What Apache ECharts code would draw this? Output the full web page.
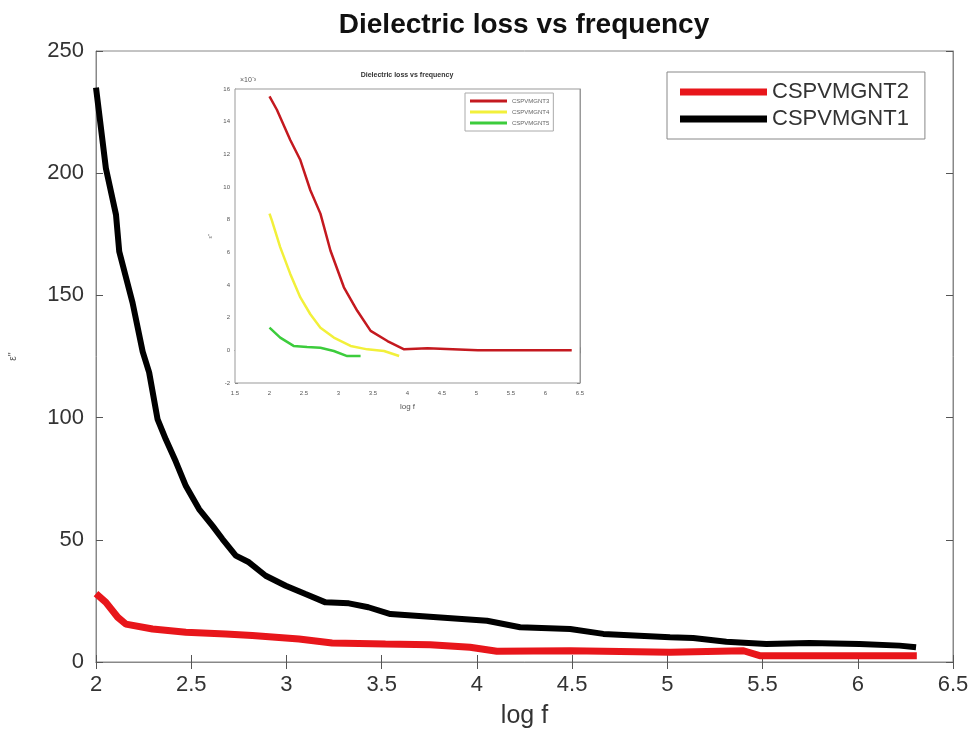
<!DOCTYPE html>
<html>
<head>
<meta charset="utf-8">
<script src="https://cdn.jsdelivr.net/npm/echarts@6/dist/echarts.min.js"></script>
<style>
  html, body { margin: 0; padding: 0; background: #fff; }
  #chart { width: 974px; height: 734px; }
</style>
</head>
<body>
<div id="chart"></div>
<script>
// Main plot: dielectric loss (ε'') against log f
const logF1 = [2.0, 2.052, 2.105, 2.122, 2.192, 2.245, 2.279, 2.323, 2.367, 2.419, 2.472, 2.541, 2.611, 2.664, 2.734, 2.803, 2.891, 2.996, 3.1, 3.205, 3.328, 3.43, 3.546, 3.79, 4.053, 4.227, 4.49, 4.664, 5.014, 5.136, 5.31, 5.52, 5.747, 6.009, 6.219, 6.306];
const eps1  = [235, 202, 183, 168, 147, 127, 118.5, 99.4, 91, 82, 72, 62.6, 55.8, 50.3, 43.5, 40.8, 35.3, 31.2, 27.8, 24.4, 24, 22.4, 19.6, 18.3, 16.9, 14.2, 13.5, 11.5, 10.1, 9.8, 8.3, 7.4, 7.8, 7.4, 6.7, 6.0];

const logF2 = [2.0, 2.009, 2.052, 2.114, 2.157, 2.297, 2.472, 2.681, 2.821, 3.066, 3.24, 3.52, 3.755, 3.964, 4.105, 4.49, 5.014, 5.4, 5.485, 6.009, 6.31];
const eps2  = [28, 28.5, 24.4, 18.3, 15.5, 13.5, 12.2, 11.5, 10.8, 9.4, 7.8, 7.4, 7.1, 6.0, 4.4, 4.6, 4.0, 4.6, 2.6, 2.6, 2.6];

// Inset plot: values in units of 10^-3
const inLogF3 = [2.0, 2.107, 2.301, 2.447, 2.592, 2.738, 2.883, 3.078, 3.272, 3.466, 3.709, 3.951, 4.29, 5.02, 6.38];
const inEps3  = [15.55, 14.73, 12.88, 11.65, 9.8, 8.37, 6.11, 3.86, 2.42, 1.19, 0.57, 0.06, 0.12, 0.0, 0.0];
const inLogF4 = [2.0, 2.034, 2.155, 2.301, 2.447, 2.592, 2.738, 2.932, 3.175, 3.417, 3.66, 3.879];
const inEps4  = [8.37, 7.96, 6.32, 4.68, 3.24, 2.21, 1.39, 0.78, 0.27, 0.06, -0.04, -0.35];
const inLogF5 = [2.0, 2.155, 2.349, 2.544, 2.738, 2.932, 3.126, 3.32];
const inEps5  = [1.39, 0.78, 0.27, 0.2, 0.16, -0.04, -0.35, -0.35];

const mainNames  = ['CSPVMGNT2', 'CSPVMGNT1'];
const insetNames = ['CSPVMGNT3', 'CSPVMGNT4', 'CSPVMGNT5'];

const zip = (xs, ys) => xs.map((x, i) => [x, ys[i]]);

const FONT = '"Liberation Sans", Arial, sans-serif';

// Copy of an axis used only for the inward ticks on the opposite side of the box
function mirrorAxis(base, extra) {
  return Object.assign({}, base, {
    axisLabel: { show: false },
    name: '',
    splitLine: { show: false }
  }, extra);
}

const mainX = {
  gridIndex: 0, type: 'value', min: 2, max: 6.5, interval: 0.5,
  axisLine: { lineStyle: { color: '#888', width: 1 } },
  axisTick: { inside: true, length: 7, lineStyle: { color: '#555' } },
  axisLabel: { fontSize: 22, color: '#333', margin: 12, fontFamily: FONT },
  splitLine: { show: false },
  name: 'log f', nameLocation: 'middle', nameGap: 42,
  nameTextStyle: { fontSize: 25, color: '#333', fontFamily: FONT }
};
const mainY = {
  gridIndex: 0, type: 'value', min: 0, max: 250, interval: 50,
  axisLine: { show: true, lineStyle: { color: '#888', width: 1 } },
  axisTick: { show: true, inside: true, length: 7, lineStyle: { color: '#555' } },
  axisLabel: { fontSize: 22, color: '#333', margin: 12, fontFamily: FONT },
  splitLine: { show: false },
  name: "ε''", nameLocation: 'middle', nameGap: 78, nameRotate: 90,
  nameTextStyle: { fontSize: 10, color: '#555', fontFamily: FONT }
};
const insetX = {
  gridIndex: 1, type: 'value', min: 1.5, max: 6.5, interval: 0.5,
  axisLine: { lineStyle: { color: '#999', width: 1 } },
  axisTick: { inside: true, length: 3, lineStyle: { color: '#777' } },
  axisLabel: { fontSize: 6, color: '#555', margin: 7, fontFamily: FONT },
  splitLine: { show: false },
  name: 'log f', nameLocation: 'middle', nameGap: 20,
  nameTextStyle: { fontSize: 8, color: '#555', fontFamily: FONT }
};
const insetY = {
  gridIndex: 1, type: 'value', min: -2, max: 16, interval: 2,
  axisLine: { show: true, lineStyle: { color: '#999', width: 1 } },
  axisTick: { show: true, inside: true, length: 3, lineStyle: { color: '#777' } },
  axisLabel: { fontSize: 6, color: '#555', margin: 5, fontFamily: FONT },
  splitLine: { show: false },
  name: "ε''", nameLocation: 'middle', nameGap: 22, nameRotate: 90,
  nameTextStyle: { fontSize: 6, color: '#777', fontFamily: FONT }
};

const chart = echarts.init(document.getElementById('chart'), null, { renderer: 'canvas' });

chart.setOption({
  backgroundColor: '#fff',
  animation: false,
  grid: [
    { left: 95, top: 51, width: 858, height: 612, show: true, borderColor: '#888', borderWidth: 1, backgroundColor: 'transparent' },
    { left: 235, top: 89, width: 345, height: 294, show: true, borderColor: '#999', borderWidth: 1, backgroundColor: '#fff', z: 5 }
  ],
  xAxis: [
    mainX,
    mirrorAxis(mainX, { position: 'top' }),
    insetX,
    mirrorAxis(insetX, { position: 'top' })
  ],
  yAxis: [
    mainY,
    mirrorAxis(mainY, { position: 'right' }),
    insetY,
    mirrorAxis(insetY, { position: 'right' })
  ],
  legend: [
    {
      data: mainNames,
      orient: 'vertical', left: 667, top: 72,
      itemWidth: 87, itemHeight: 7, itemGap: 5,
      icon: 'rect',
      padding: [9, 16, 9, 13],
      borderColor: '#888', borderWidth: 1, backgroundColor: '#fff',
      textStyle: { fontSize: 22, color: '#333', fontFamily: FONT },
      z: 10
    },
    {
      data: insetNames,
      orient: 'vertical', left: 465, top: 93,
      itemWidth: 37, itemHeight: 3, itemGap: 5,
      icon: 'rect',
      padding: [5, 4, 5, 5],
      borderColor: '#aaa', borderWidth: 1, backgroundColor: '#fff',
      textStyle: { fontSize: 6, color: '#666', fontFamily: FONT },
      z: 10
    }
  ],
  graphic: [
    {
      type: 'text', x: 524, y: 25, z: 20,
      style: { text: 'Dielectric loss vs frequency', fontSize: 28, fontWeight: 'bold', fill: '#111', fontFamily: FONT, textAlign: 'center', textVerticalAlign: 'middle' }
    },
    {
      type: 'text', x: 407, y: 75, z: 20,
      style: { text: 'Dielectric loss vs frequency', fontSize: 7, fontWeight: 'bold', fill: '#333', fontFamily: FONT, textAlign: 'center', textVerticalAlign: 'middle' }
    },
    {
      type: 'text', x: 240, y: 80, z: 20,
      style: { text: '×10⁻³', fontSize: 7, fill: '#555', fontFamily: FONT, textAlign: 'left', textVerticalAlign: 'middle' }
    }
  ],
  series: [
    {
      name: 'CSPVMGNT1', type: 'line', xAxisIndex: 0, yAxisIndex: 0,
      data: zip(logF1, eps1), showSymbol: false, symbol: 'none',
      lineStyle: { color: '#000', width: 6 }, itemStyle: { color: '#000' }, z: 2
    },
    {
      name: 'CSPVMGNT2', type: 'line', xAxisIndex: 0, yAxisIndex: 0,
      data: zip(logF2, eps2), showSymbol: false, symbol: 'none',
      lineStyle: { color: '#e8161b', width: 7 }, itemStyle: { color: '#e8161b' }, z: 3
    },
    {
      name: 'CSPVMGNT3', type: 'line', xAxisIndex: 2, yAxisIndex: 2,
      data: zip(inLogF3, inEps3), showSymbol: false, symbol: 'none',
      lineStyle: { color: '#c4191f', width: 2.5 }, itemStyle: { color: '#c4191f' }, z: 8
    },
    {
      name: 'CSPVMGNT4', type: 'line', xAxisIndex: 2, yAxisIndex: 2,
      data: zip(inLogF4, inEps4), showSymbol: false, symbol: 'none',
      lineStyle: { color: '#f2f03a', width: 2.5 }, itemStyle: { color: '#f2f03a' }, z: 8
    },
    {
      name: 'CSPVMGNT5', type: 'line', xAxisIndex: 2, yAxisIndex: 2,
      data: zip(inLogF5, inEps5), showSymbol: false, symbol: 'none',
      lineStyle: { color: '#3ccc3c', width: 2.5 }, itemStyle: { color: '#3ccc3c' }, z: 8
    }
  ]
});
</script>
</body>
</html>
